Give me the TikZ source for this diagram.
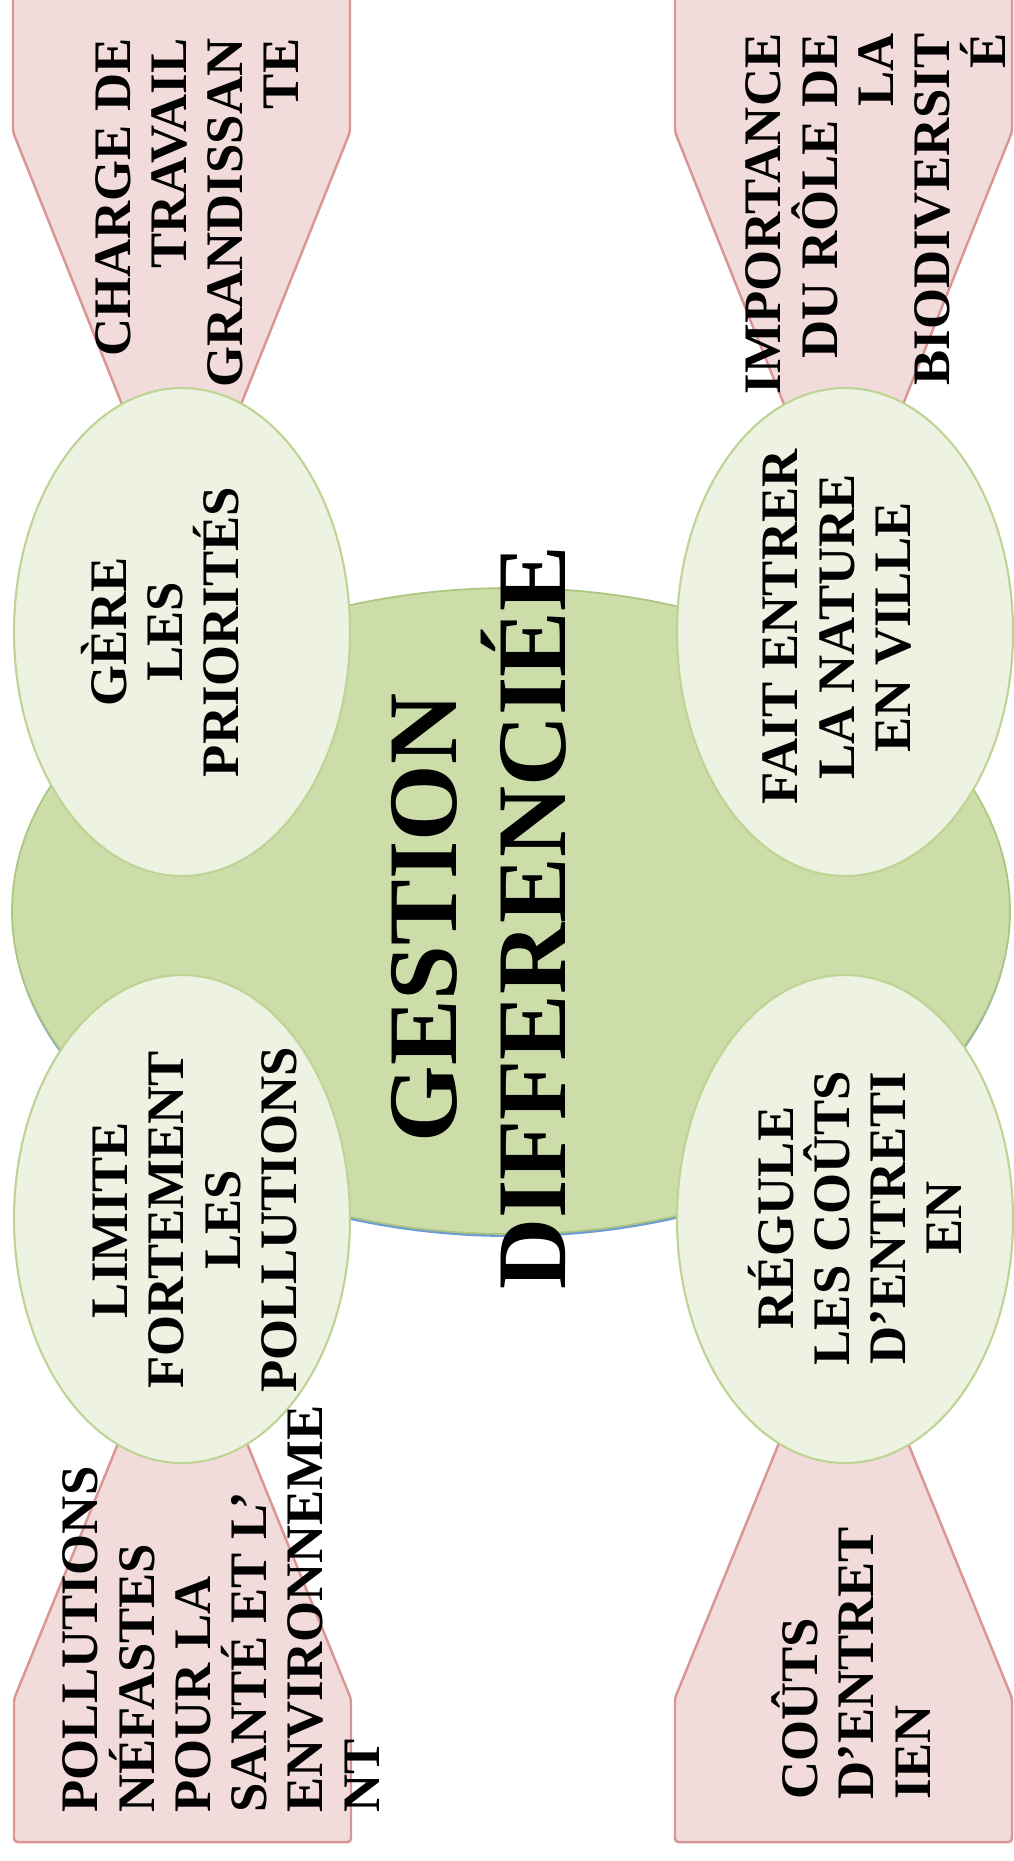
\documentclass[tikz,border=0pt]{standalone}
\usepackage{fontspec}
\setmainfont{Liberation Serif}
\usetikzlibrary{shapes.geometric}

\definecolor{pinkfill}{RGB}{242,220,219}
\definecolor{pinkline}{RGB}{217,150,148}
\definecolor{bubblefill}{RGB}{237,242,226}
\definecolor{bubbleline}{RGB}{190,212,148}
\definecolor{corefill}{RGB}{205,221,170}
\definecolor{coreline}{RGB}{172,198,128}
\definecolor{shadowblue}{RGB}{110,155,210}

\begin{document}
\begin{tikzpicture}[
  tab/.style={draw=pinkline,fill=pinkfill,line width=0.7pt,rounded corners=1pt},
  bubble/.style={ellipse,draw=bubbleline,fill=bubblefill,line width=0.6pt,minimum width=3.36cm,minimum height=4.88cm,inner sep=0pt},
  core/.style={ellipse,draw=coreline,fill=corefill,line width=0.5pt,minimum width=9.98cm,minimum height=6.46cm,inner sep=0pt},
  txt/.style={rotate=90,inner sep=0pt,font=\bfseries\fontsize{15}{16}\selectfont},
  title/.style={rotate=90,inner sep=0pt,align=center,font=\bfseries\fontsize{28}{31}\selectfont}
]
\useasboundingbox (0,0) rectangle (10.14,-18.61);

% pink tabs behind the bubbles
\draw[tab] (0.13,0.10) -- (3.50,0.10) -- (3.50,-1.32) -- (1.815,-5.53) -- (0.13,-1.32) -- cycle;
\draw[tab] (6.75,0.10) -- (10.12,0.10) -- (10.12,-1.32) -- (8.435,-5.53) -- (6.75,-1.32) -- cycle;
\draw[tab] (0.14,-18.42) -- (3.51,-18.42) -- (3.51,-16.99) -- (1.825,-12.85) -- (0.14,-16.99) -- cycle;
\draw[tab] (6.75,-18.42) -- (10.12,-18.42) -- (10.12,-16.98) -- (8.435,-12.85) -- (6.75,-16.98) -- cycle;

% centre
\node[core,draw=none,fill=shadowblue] (coreshadow) at (5.11,-9.14) {};
\node[core] (core) at (5.11,-9.11) {};

% bubbles
\node[bubble] (gere) at (1.82,-6.32) {};
\node[bubble] (fait) at (8.45,-6.32) {};
\node[bubble] (limite) at (1.82,-12.19) {};
\node[bubble] (regule) at (8.45,-12.19) {};

% texts
\node[title] (gestion) at (4.79,-9.18) {GESTION\\DIFFERENCIÉE};
\node[txt,align=center] (gereTxt) at (1.60,-6.32) {GÈRE\\LES\\PRIORITÉS};
\node[txt,align=center] (faitTxt) at (8.37,-6.27) {FAIT ENTRER\\LA NATURE\\EN VILLE};
\node[txt,align=center] (limiteTxt) at (1.95,-12.20) {LIMITE\\FORTEMENT\\LES\\POLLUTIONS};
\node[txt,align=center] (reguleTxt) at (8.55,-12.18) {RÉGULE\\LES COÛTS\\D’ENTRETI\\EN};
\node[txt,align=right,anchor=east] (charge) at (1.97,-0.38) {CHARGE DE\\TRAVAIL\\GRANDISSAN\\TE};
\node[txt,align=right,anchor=east] (importance) at (8.76,-0.33) {IMPORTANCE\\DU RÔLE DE\\LA\\BIODIVERSIT\\É};
\node[txt,align=left,anchor=west] (pollutions) at (2.21,-18.13) {POLLUTIONS\\NÉFASTES\\POUR LA\\SANTÉ ET L’\\ENVIRONNEME\\NT};
\node[txt,align=left,anchor=west] (couts) at (8.51,-18.00) {COÛTS\\D’ENTRET\\IEN};
\end{tikzpicture}
\end{document}
